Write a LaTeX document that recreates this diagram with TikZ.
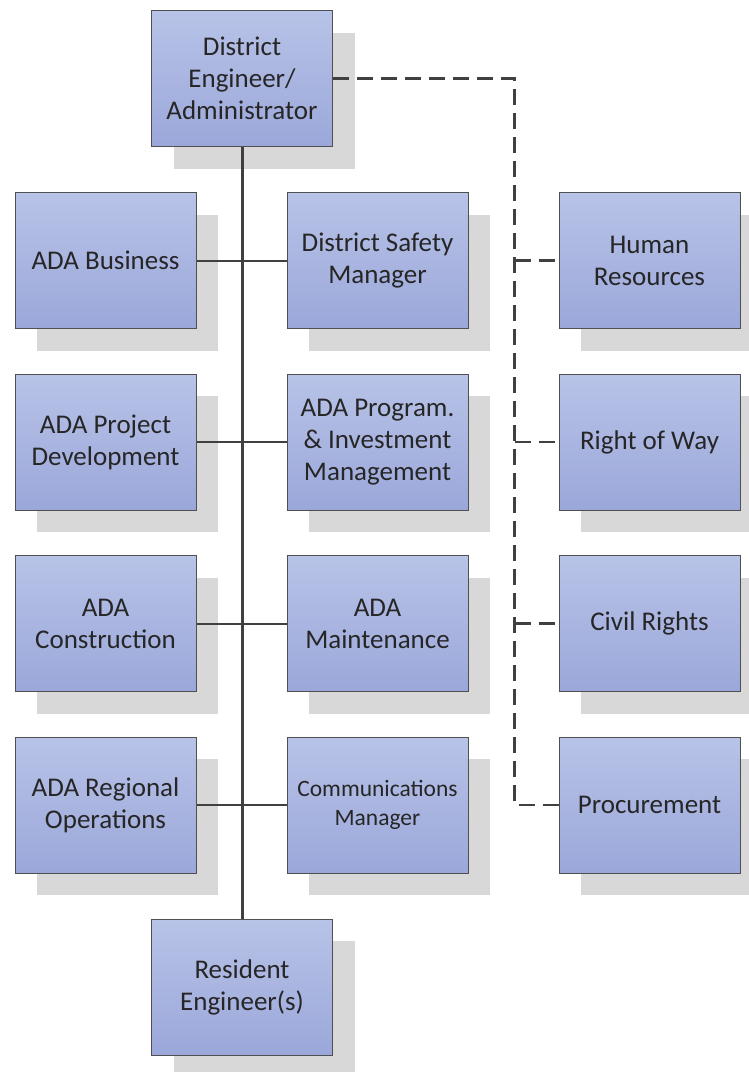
\documentclass[tikz,border=0pt]{standalone}
\usepackage{fontspec}
\setmainfont{Carlito}
\usetikzlibrary{positioning,shadows}
\definecolor{boxtop}{HTML}{B8C3E8}
\definecolor{boxbottom}{HTML}{9BA7D9}
\definecolor{boxline}{HTML}{505050}
\definecolor{shadowgray}{HTML}{D8D8D8}
\definecolor{linkgray}{HTML}{404040}
\definecolor{textgray}{HTML}{262626}

\begin{document}
\begin{tikzpicture}[
    orgbox/.style={draw=boxline, line width=1pt, top color=boxtop, bottom color=boxbottom,
      minimum width=181pt, minimum height=136pt, inner sep=0pt, align=center,
      text=textgray, font=\fontsize{27}{32}\selectfont,
      drop shadow={shadow xshift=22pt, shadow yshift=-22pt, fill=shadowgray, opacity=1}},
    orgline/.style={draw=linkgray, line width=2pt},
    dashline/.style={draw=linkgray, line width=2.5pt, dash pattern=on 16pt off 8pt}]
  \useasboundingbox (0,0) rectangle (749pt,-1072pt);
  % left and middle columns
  \node[orgbox] (busi) at (105.5pt,-260.5pt) {ADA Business};
  \node[orgbox, right=90pt of busi] (safety) {District Safety\\Manager};
  \node[orgbox, below=44.5pt of busi] (projdev) {ADA Project\\Development};
  \node[orgbox, right=90pt of projdev] (program) {ADA Program.\\\& Investment\\Management};
  \node[orgbox, below=44.5pt of projdev] (constr) {ADA\\Construction};
  \node[orgbox, right=90pt of constr] (maint) {ADA\\Maintenance};
  \node[orgbox, below=44.5pt of constr] (regops) {ADA Regional\\Operations};
  \node[orgbox, right=90pt of regops, font=\fontsize{23.5}{29}\selectfont] (comms) {Communications\\Manager};
  % staff column
  \node[orgbox, right=90pt of safety] (hr) {Human\\Resources};
  \node[orgbox, right=90pt of program] (row) {Right of Way};
  \node[orgbox, right=90pt of maint] (civil) {Civil Rights};
  \node[orgbox, right=90pt of comms] (procure) {Procurement};
  % top and bottom
  \node[orgbox, above=45pt of busi.north east, xshift=45.5pt] (dea) {District\\Engineer/\\Administrator};
  \node[orgbox, below=45pt of regops.south east, xshift=45.5pt] (res) {Resident\\Engineer(s)};
  % solid reporting lines
  \draw[orgline, line width=3pt] (dea.south) -- (res.north);
  \draw[orgline] (busi) -- (safety)
                 (projdev) -- (program)
                 (constr) -- (maint)
                 (regops) -- (comms);
  % dashed staff lines
  \coordinate[left=44pt of procure.west] (staff);
  \draw[dashline] (dea.east) -| (staff) -- (procure.west);
  \draw[dashline] (hr.west -| staff) -- (hr.west);
  \draw[dashline] (row.west -| staff) -- (row.west);
  \draw[dashline] (civil.west -| staff) -- (civil.west);
\end{tikzpicture}
\end{document}
